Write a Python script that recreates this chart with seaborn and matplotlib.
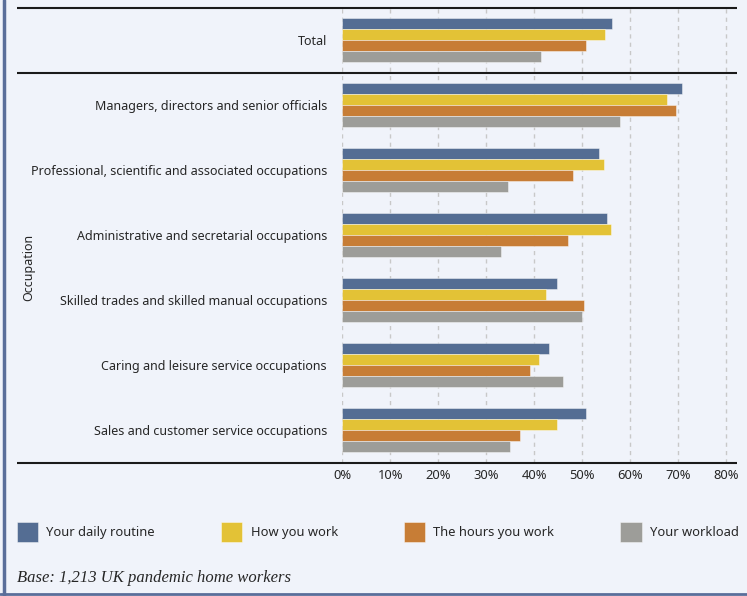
import matplotlib
matplotlib.use("Agg")
import matplotlib.pyplot as plt
from matplotlib.lines import Line2D
from matplotlib.transforms import blended_transform_factory
import seaborn as sns
import pandas as pd

categories = [
    "Total",
    "Managers, directors and senior officials",
    "Professional, scientific and associated occupations",
    "Administrative and secretarial occupations",
    "Skilled trades and skilled manual occupations",
    "Caring and leisure service occupations",
    "Sales and customer service occupations",
]
series = ["Your daily routine", "How you work", "The hours you work", "Your workload"]
daily_routine = [56.1, 70.8, 53.5, 55.1, 44.7, 43.1, 50.8]
how_you_work = [54.8, 67.7, 54.5, 56.0, 42.4, 41.0, 44.7]
hours_you_work = [50.8, 69.5, 48.0, 47.0, 50.4, 39.1, 37.0]
workload = [41.3, 57.9, 34.5, 33.1, 50.0, 46.0, 34.9]
x_ticks = [0, 10, 20, 30, 40, 50, 60, 70, 80]
x_tick_labels = ["0%", "10%", "20%", "30%", "40%", "50%", "60%", "70%", "80%"]
colors = ["#546D93", "#E3C236", "#C77D36", "#9D9D99"]

values = [daily_routine, how_you_work, hours_you_work, workload]
df = pd.DataFrame(
    [(c, s, v[i]) for s, v in zip(series, values) for i, c in enumerate(categories)],
    columns=["category", "series", "value"],
)

BG = "#F0F3FA"
TXT = "#262626"

sns.set_theme(style="white")
plt.rcParams["font.family"] = ["Noto Sans", "DejaVu Sans"]

W, H = 747, 596
fig = plt.figure(figsize=(W / 100, H / 100), dpi=100, facecolor=BG)

x0, x1 = 342.3, 737.0
y0, y1 = 7.5, 462.5
ax = fig.add_axes([x0 / W, 1 - y1 / H, (x1 - x0) / W, (y1 - y0) / H])
ax.set_facecolor(BG)

sns.barplot(
    data=df, y="category", x="value", hue="series", order=categories,
    hue_order=series, palette=colors, orient="h", width=0.68, gap=0,
    saturation=1, edgecolor=(1, 1, 1, 0.5), linewidth=0.6, ax=ax, legend=True,
)

px_per_10 = 48.0
ax.set_xlim(0, (x1 - x0) / px_per_10 * 10)
ax.set_ylim(len(categories) - 0.5, -0.5)
ax.set_xticks(x_ticks)
ax.set_xticklabels(x_tick_labels)
ax.tick_params(axis="x", length=0, pad=5, labelsize=9.3, labelcolor=TXT)
ax.tick_params(axis="y", length=0, pad=11, labelsize=9.0, labelcolor=TXT)
ax.set_xlabel("")
ax.set_ylabel("Occupation", fontsize=9.0, color=TXT)
ax.yaxis.set_label_coords((35 - x0) / (x1 - x0), (y1 - 267) / (y1 - y0))
for sp in ax.spines.values():
    sp.set_visible(False)
ax.xaxis.grid(True, linestyle=(0, (3, 3)), color="#C8C8C8", linewidth=1)
ax.set_axisbelow(True)

# table rules: top, below Total, bottom
tr = blended_transform_factory(ax.transAxes, ax.transData)
left_frac = (17 - x0) / (x1 - x0)
for yv in (-0.5, 0.5, len(categories) - 0.5):
    ax.plot([left_frac, 1.0], [yv, yv], color="#1a1a1a", linewidth=1.5,
            transform=tr, clip_on=False, zorder=5, solid_capstyle="butt")

# legend row
handles, labels = ax.get_legend_handles_labels()
ax.get_legend().remove()
fig.legend(
    handles, labels, loc="center left", bbox_to_anchor=(5 / W, 1 - 532 / H),
    ncol=4, frameon=False, fontsize=9.3, handlelength=1.65, handleheight=2.1,
    handletextpad=0.65, columnspacing=5.1, labelcolor=TXT,
)

fig.text(17 / W, 1 - 578 / H, "Base: 1,213 UK pandemic home workers",
         family="Liberation Serif", style="italic", fontsize=12, color=TXT,
         ha="left", va="center")

# outer frame
frame = "#5A6E9A"
fig.add_artist(Line2D([3.5 / W, 3.5 / W], [0, 1], color=frame, linewidth=2.5,
                      transform=fig.transFigure))
fig.add_artist(Line2D([0, 1], [2.5 / H, 2.5 / H], color=frame, linewidth=2,
                      transform=fig.transFigure))

fig.savefig("out.png", dpi=100, facecolor=BG)
